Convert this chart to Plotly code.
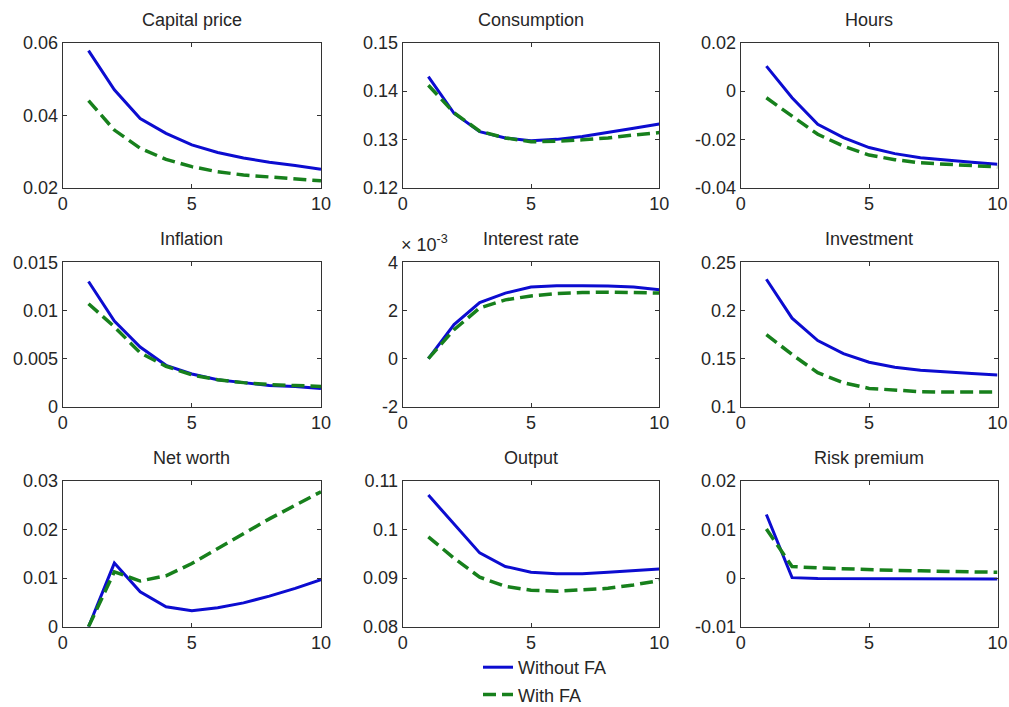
import plotly.graph_objects as go
from plotly.subplots import make_subplots

periods = [1, 2, 3, 4, 5, 6, 7, 8, 9, 10]

titles = ["Capital price", "Consumption", "Hours",
          "Inflation", "Interest rate", "Investment",
          "Net worth", "Output", "Risk premium"]

without_fa = {
    "Capital price": [0.0578, 0.0470, 0.0391, 0.0350, 0.0318, 0.0297, 0.0282, 0.0270, 0.0261, 0.0251],
    "Consumption":   [0.1430, 0.1354, 0.1316, 0.1303, 0.1297, 0.1300, 0.1306, 0.1314, 0.1323, 0.1332],
    "Hours":         [0.0103, -0.0028, -0.0138, -0.0193, -0.0234, -0.0259, -0.0276, -0.0287, -0.0295, -0.0303],
    "Inflation":     [0.0130, 0.0089, 0.0062, 0.0043, 0.0034, 0.0028, 0.0025, 0.0022, 0.0021, 0.0019],
    "Interest rate": [0.0, 0.00141, 0.00233, 0.00272, 0.00297, 0.00303, 0.00303, 0.00302, 0.00297, 0.00286],
    "Investment":    [0.2324, 0.1920, 0.1687, 0.1552, 0.1462, 0.1410, 0.1379, 0.1358, 0.1344, 0.1330],
    "Net worth":     [0.0, 0.0131, 0.0072, 0.0041, 0.0033, 0.0039, 0.0049, 0.0063, 0.0079, 0.0097],
    "Output":        [0.1071, 0.1012, 0.0952, 0.0924, 0.0912, 0.0909, 0.0909, 0.0912, 0.0916, 0.0919],
    "Risk premium":  [0.0131, 0.0001, -0.0001, -0.0001, -0.0001, -0.0001, -0.0001, -0.0001, -0.0002, -0.0002],
}

with_fa = {
    "Capital price": [0.0440, 0.0359, 0.0309, 0.0278, 0.0258, 0.0244, 0.0235, 0.0229, 0.0225, 0.0219],
    "Consumption":   [0.1412, 0.1355, 0.1317, 0.1303, 0.1295, 0.1296, 0.1299, 0.1303, 0.1309, 0.1314],
    "Hours":         [-0.0028, -0.0103, -0.0179, -0.0228, -0.0265, -0.0284, -0.0297, -0.0303, -0.0308, -0.0314],
    "Inflation":     [0.0107, 0.0083, 0.0056, 0.0042, 0.0033, 0.0028, 0.0025, 0.0023, 0.0022, 0.0021],
    "Interest rate": [0.0, 0.00120, 0.00210, 0.00244, 0.00260, 0.00270, 0.00274, 0.00276, 0.00274, 0.00272],
    "Investment":    [0.1749, 0.1542, 0.1353, 0.1249, 0.1190, 0.1170, 0.1156, 0.1152, 0.1152, 0.1152],
    "Net worth":     [0.0, 0.0113, 0.0094, 0.0105, 0.0130, 0.0161, 0.0192, 0.0222, 0.0250, 0.0278],
    "Output":        [0.0985, 0.0941, 0.0902, 0.0883, 0.0875, 0.0873, 0.0876, 0.0879, 0.0886, 0.0895],
    "Risk premium":  [0.0101, 0.0024, 0.0021, 0.0019, 0.0017, 0.0016, 0.0015, 0.0014, 0.0014, 0.0012],
}

y_ranges = {
    "Capital price": [0.02, 0.06],
    "Consumption": [0.12, 0.15],
    "Hours": [-0.04, 0.02],
    "Inflation": [0.0, 0.015],
    "Interest rate": [-0.002, 0.004],
    "Investment": [0.1, 0.25],
    "Net worth": [0.0, 0.03],
    "Output": [0.08, 0.11],
    "Risk premium": [-0.01, 0.02],
}

y_tickvals = {
    "Capital price": [0.02, 0.04, 0.06],
    "Consumption": [0.12, 0.13, 0.14, 0.15],
    "Hours": [-0.04, -0.02, 0.0, 0.02],
    "Inflation": [0.0, 0.005, 0.01, 0.015],
    "Interest rate": [-0.002, 0.0, 0.002, 0.004],
    "Investment": [0.1, 0.15, 0.2, 0.25],
    "Net worth": [0.0, 0.01, 0.02, 0.03],
    "Output": [0.08, 0.09, 0.1, 0.11],
    "Risk premium": [-0.01, 0.0, 0.01, 0.02],
}
y_ticktext = {
    "Capital price": ["0.02", "0.04", "0.06"],
    "Consumption": ["0.12", "0.13", "0.14", "0.15"],
    "Hours": ["-0.04", "-0.02", "0", "0.02"],
    "Inflation": ["0", "0.005", "0.01", "0.015"],
    "Interest rate": ["-2", "0", "2", "4"],
    "Investment": ["0.1", "0.15", "0.2", "0.25"],
    "Net worth": ["0", "0.01", "0.02", "0.03"],
    "Output": ["0.08", "0.09", "0.1", "0.11"],
    "Risk premium": ["-0.01", "0", "0.01", "0.02"],
}
x_tickvals = [0, 5, 10]
x_ticktext = ["0", "5", "10"]

W, H = 1009, 707
FONT = "Liberation Sans, Arial, Helvetica, sans-serif"
TXT = "#262626"
BLUE = "#0c0cd0"
GREEN = "#17801c"

# panel edges in window pixels
col_px = [(62.7, 321.0), (402.7, 659.3), (740.7, 997.5)]
row_px = [(42.7, 187.7), (262.3, 406.7), (481.0, 626.7)]

fig = make_subplots(rows=3, cols=3)

for i, name in enumerate(titles):
    r, c = i // 3 + 1, i % 3 + 1
    fig.add_trace(go.Scatter(x=periods, y=without_fa[name], mode="lines",
                             line=dict(color=BLUE, width=3),
                             name="Without FA", legendgroup="a", showlegend=(i == 0)),
                  row=r, col=c)
    fig.add_trace(go.Scatter(x=periods, y=with_fa[name], mode="lines",
                             line=dict(color=GREEN, width=3.5, dash="13px,6px"),
                             name="With FA", legendgroup="b", showlegend=(i == 0)),
                  row=r, col=c)

    x0, x1 = col_px[c - 1]
    ytop, ybot = row_px[r - 1]
    axis_common = dict(showline=True, mirror="ticks", linecolor="#333333", linewidth=1,
                       ticks="inside", ticklen=4, tickcolor="#333333",
                       showgrid=False, zeroline=False,
                       tickfont=dict(family=FONT, size=18, color=TXT))
    fig.update_xaxes(domain=[x0 / W, x1 / W], range=[0, 10],
                     tickvals=x_tickvals, ticktext=x_ticktext, row=r, col=c, **axis_common)
    fig.update_yaxes(domain=[1 - ybot / H, 1 - ytop / H], range=y_ranges[name],
                     tickvals=y_tickvals[name], ticktext=y_ticktext[name],
                     row=r, col=c, **axis_common)

    idx = "" if i == 0 else str(i + 1)
    fig.add_annotation(text=name, xref=f"x{idx} domain", yref=f"y{idx} domain",
                       x=0.5, y=1, xanchor="center", yanchor="bottom", yshift=11,
                       showarrow=False, font=dict(family=FONT, size=18, color=TXT))
    if name == "Interest rate":
        fig.add_annotation(text="× 10<sup>-3</sup>", xref=f"x{idx} domain", yref=f"y{idx} domain",
                           x=0, y=1, xanchor="left", yanchor="bottom", yshift=5, xshift=-4,
                           showarrow=False, font=dict(family=FONT, size=18, color=TXT))

fig.update_layout(
    width=W, height=H,
    margin=dict(l=0, r=0, t=0, b=0, autoexpand=False),
    paper_bgcolor="white", plot_bgcolor="white",
    font=dict(family=FONT, size=18, color=TXT),
    legend=dict(x=478 / W, y=1 - 649 / H, xanchor="left", yanchor="top",
                bgcolor="rgba(0,0,0,0)", borderwidth=0,
                font=dict(family=FONT, size=18, color=TXT),
                tracegroupgap=1, itemwidth=30),
)

fig.write_html(
    "out.html",
    config={"displayModeBar": False},
    post_script="document.body.style.margin='0';document.body.style.overflow='hidden';",
)
